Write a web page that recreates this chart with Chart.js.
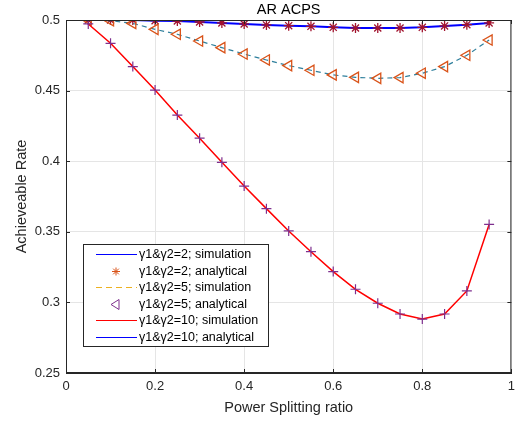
<!DOCTYPE html>
<html>
<head>
<meta charset="utf-8">
<script src="https://cdn.jsdelivr.net/npm/chart.js@4/dist/chart.umd.min.js"></script>
<style>
  html, body { margin: 0; padding: 0; background: #fff; overflow: hidden; }
  #wrap { width: 521px; height: 424px; position: relative; }
</style>
</head>
<body>
<div id="wrap"><canvas id="chart"></canvas></div>
<script>
// --- data ---
const ratio = [0.05, 0.1, 0.15, 0.2, 0.25, 0.3, 0.35, 0.4, 0.45, 0.5, 0.55, 0.6, 0.65, 0.7, 0.75, 0.8, 0.85, 0.9, 0.95];
const rateG2 = [0.5, 0.5, 0.5, 0.4995, 0.4993, 0.4986, 0.4979, 0.4972, 0.4965, 0.496, 0.4955, 0.4948, 0.4943, 0.4943, 0.4943, 0.4948, 0.4958, 0.4967, 0.4979];
const rateG5 = [0.5, 0.4995, 0.4976, 0.4934, 0.4899, 0.4851, 0.4804, 0.4759, 0.4717, 0.4677, 0.4644, 0.4611, 0.4594, 0.4587, 0.4592, 0.4623, 0.467, 0.475, 0.4858];
const rateG10 = [0.4972, 0.4835, 0.467, 0.4504, 0.4327, 0.4163, 0.3992, 0.3824, 0.3664, 0.3506, 0.3359, 0.3218, 0.3093, 0.2994, 0.2918, 0.2882, 0.2918, 0.3081, 0.3552];
const xTicks = [0, 0.2, 0.4, 0.6, 0.8, 1];
const yTicks = [0.25, 0.3, 0.35, 0.4, 0.45, 0.5];
const legendLabels = [
    'γ1&γ2=2; simulation',
    'γ1&γ2=2; analytical',
    'γ1&γ2=5; simulation',
    'γ1&γ2=5; analytical',
    'γ1&γ2=10; simulation',
    'γ1&γ2=10; analytical'
];
const titleText = 'AR ACPS';

const FONT = '"Liberation Sans", Arial, Helvetica, sans-serif';
const AXIS = '#262626';

function pts(ys) { return ratio.map((x, i) => ({ x: x, y: ys[i] })); }

// legend as MATLAB drew it (its colours do not match the plotted marks)
const legendStyle = [
    { kind: 'line', color: '#0000ff' },
    { kind: 'star', color: '#D95319' },
    { kind: 'dash', color: '#EDB120' },
    { kind: 'tri', color: '#7E2F8E' },
    { kind: 'line', color: '#ff0000' },
    { kind: 'line', color: '#0000ff' }
];

const boxPlugin = {
    id: 'boxPlugin',
    afterDraw(chart) {
        const ctx = chart.ctx;
        const a = chart.chartArea;
        const xs = chart.scales.x, ys = chart.scales.y;
        ctx.save();
        // title centred over the axes
        ctx.fillStyle = '#000';
        ctx.font = '14.5px ' + FONT;
        ctx.textAlign = 'center';
        ctx.textBaseline = 'middle';
        ctx.fillText(titleText, (a.left + a.right) / 2, 10);
        ctx.textAlign = 'left';

        // axes box
        ctx.strokeStyle = AXIS;
        ctx.lineWidth = 1;
        ctx.strokeRect(a.left + 0.5, a.top + 0.5, a.right - a.left - 1, a.bottom - a.top - 1);
        // inward ticks
        ctx.beginPath();
        xTicks.forEach(v => {
            const px = Math.round(xs.getPixelForValue(v)) + 0.5;
            ctx.moveTo(px, a.bottom); ctx.lineTo(px, a.bottom - 4);
            ctx.moveTo(px, a.top); ctx.lineTo(px, a.top + 4);
        });
        yTicks.forEach(v => {
            const py = Math.round(ys.getPixelForValue(v)) + 0.5;
            ctx.moveTo(a.left, py); ctx.lineTo(a.left + 4, py);
            ctx.moveTo(a.right, py); ctx.lineTo(a.right - 4, py);
        });
        ctx.stroke();

        // legend box
        const lx = 83, ly = 244, lw = 185, lh = 102;
        ctx.fillStyle = '#fff';
        ctx.fillRect(lx, ly, lw, lh);
        ctx.strokeStyle = '#262626';
        ctx.strokeRect(lx + 0.5, ly + 0.5, lw, lh);
        ctx.font = '12.5px ' + FONT;
        ctx.textBaseline = 'middle';
        legendLabels.forEach((txt, i) => {
            const y = Math.round(ly + 10 + i * 16.6) + 0.5;
            const st = legendStyle[i];
            ctx.strokeStyle = st.color;
            ctx.lineWidth = 1;
            ctx.beginPath();
            if (st.kind === 'line') {
                ctx.moveTo(96, y); ctx.lineTo(137, y); ctx.stroke();
            } else if (st.kind === 'dash') {
                ctx.setLineDash([6, 4]);
                ctx.moveTo(96, y); ctx.lineTo(137, y); ctx.stroke();
                ctx.setLineDash([]);
            } else if (st.kind === 'star') {
                const cx = 116, r = 4;
                for (let k = 0; k < 4; k++) {
                    const ang = k * Math.PI / 4;
                    ctx.moveTo(cx - r * Math.cos(ang), y - r * Math.sin(ang));
                    ctx.lineTo(cx + r * Math.cos(ang), y + r * Math.sin(ang));
                }
                ctx.stroke();
            } else if (st.kind === 'tri') {
                const cx = 116, r = 5;
                ctx.moveTo(cx - r, y); ctx.lineTo(cx + r * 0.6, y - r); ctx.lineTo(cx + r * 0.6, y + r); ctx.closePath();
                ctx.stroke();
            }
            ctx.fillStyle = '#000';
            ctx.fillText(txt, 139, y);
        });
        ctx.restore();
    }
};

new Chart(document.getElementById('chart'), {
    type: 'line',
    data: {
        datasets: [
            { label: legendLabels[0], data: pts(rateG2), borderColor: '#0000ff', borderWidth: 2, pointRadius: 0, order: 6 },
            { label: legendLabels[1], data: pts(rateG2), showLine: false, pointStyle: 'star', pointRadius: 5, borderColor: '#A2142F', borderWidth: 1.3, order: 5 },
            { label: legendLabels[2], data: pts(rateG5), borderColor: '#2E7F9C', borderWidth: 1.2, borderDash: [5, 4], pointRadius: 0, order: 4 },
            { label: legendLabels[3], data: pts(rateG5), showLine: false, pointStyle: 'triangle', rotation: -90, pointRadius: 6, borderColor: '#D95319', backgroundColor: 'rgba(0,0,0,0)', borderWidth: 1.3, order: 3 },
            { label: legendLabels[4], data: pts(rateG10), borderColor: '#ff0000', borderWidth: 1.5, pointRadius: 0, order: 2 },
            { label: legendLabels[5], data: pts(rateG10), showLine: false, pointStyle: 'cross', pointRadius: 5, borderColor: '#7E2F8E', borderWidth: 1.2, order: 1 }
        ]
    },
    options: {
        responsive: true,
        maintainAspectRatio: false,
        animation: false,
        devicePixelRatio: 1,
        layout: { padding: { left: 0, right: 0, top: 20, bottom: 0 } },
        elements: { line: { tension: 0 } },
        plugins: {
            legend: { display: false },
            tooltip: { enabled: false },
            title: { display: false }
        },
        scales: {
            x: {
                type: 'linear',
                min: 0, max: 1,
                afterFit: s => { s.height = 51; },
                afterBuildTicks: s => { s.ticks = xTicks.map(v => ({ value: v })); },
                ticks: { color: AXIS, font: { family: FONT, size: 13 }, padding: 6, maxRotation: 0,
                         callback: v => String(+v.toFixed(2)) },
                grid: { color: '#e5e5e5', drawTicks: false },
                border: { color: AXIS },
                title: { display: true, text: 'Power Splitting ratio', color: AXIS,
                         font: { family: FONT, size: 14.5 }, padding: { top: 0, bottom: 7 } }
            },
            y: {
                type: 'linear',
                min: 0.25, max: 0.5,
                afterFit: s => { s.width = 66; },
                afterBuildTicks: s => { s.ticks = yTicks.map(v => ({ value: v })); },
                ticks: { color: AXIS, font: { family: FONT, size: 13 }, padding: 6,
                         callback: v => String(+v.toFixed(2)) },
                grid: { color: '#e5e5e5', drawTicks: false },
                border: { color: AXIS },
                title: { display: true, text: 'Achieveable Rate', color: AXIS,
                         font: { family: FONT, size: 14.5 }, padding: { top: 13, bottom: 0 } }
            }
        }
    },
    plugins: [boxPlugin]
});
</script>
</body>
</html>
